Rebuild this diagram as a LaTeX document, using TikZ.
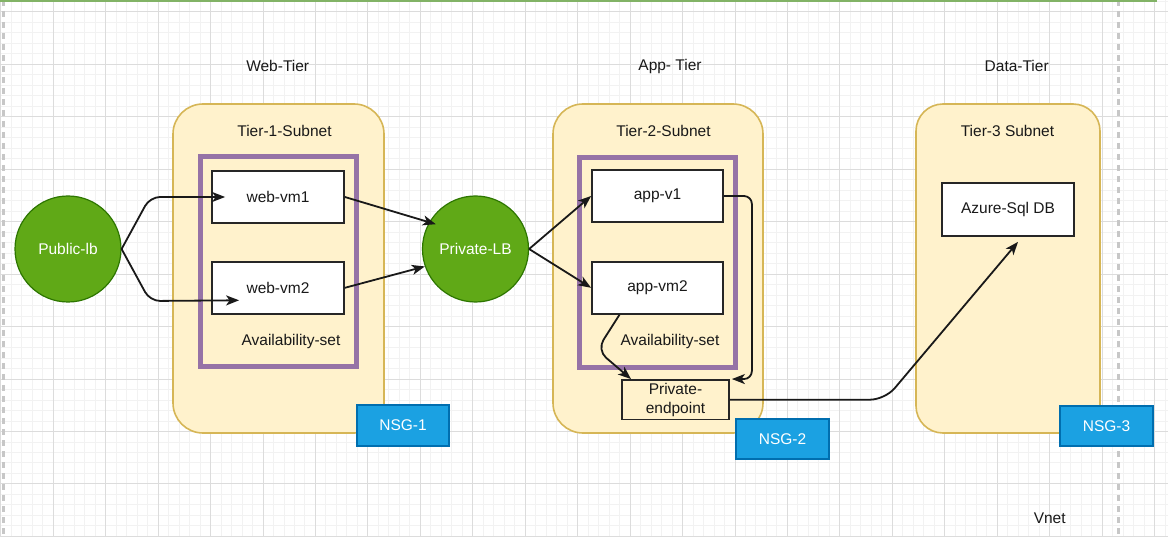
\documentclass[tikz,border=0pt]{standalone}
\usepackage{fontspec}
\setmainfont{Liberation Sans}
\usepackage{xcolor}
\usetikzlibrary{positioning,arrows.meta}

\definecolor{subnetfill}{HTML}{FFF2CC}
\definecolor{subnetline}{HTML}{D6B656}
\definecolor{setline}{HTML}{9673A6}
\definecolor{lbfill}{HTML}{60A917}
\definecolor{lbline}{HTML}{2D7600}
\definecolor{nsgfill}{HTML}{1BA1E2}
\definecolor{nsgline}{HTML}{006EAF}
\definecolor{vnetline}{HTML}{82B366}
\definecolor{gridminor}{HTML}{F2F2F2}
\definecolor{gridmajor}{HTML}{DCDCDC}

\begin{document}
\begin{tikzpicture}[x=1pt,y=-1pt,
		every node/.style={font=\fontsize{15.5}{19}\selectfont, text=black!90},
		subnet/.style={draw=subnetline, fill=subnetfill, line width=1.6pt, rounded corners=30pt, minimum width=#1, minimum height=329pt},
		availset/.style={draw=setline, line width=5.5pt, minimum width=156pt, minimum height=210pt},
		vm/.style={draw=black!85, fill=white, line width=1.8pt, minimum width=132pt, minimum height=52pt},
		lb/.style={circle, draw=lbline, fill=lbfill, line width=1.2pt, minimum size=106pt, text=white},
		nsg/.style={draw=nsgline, fill=nsgfill, line width=1.5pt, minimum width=93pt, minimum height=40pt, text=white},
		conn/.style={draw=black!90, line width=1.8pt, -{Stealth[length=13pt,width=10pt,inset=3.5pt]}}]
				% latar belakang dan kisi
				\fill[white] (0,0) rectangle (1168,537);
				\useasboundingbox (0,0) rectangle (1168,537);
				\foreach \i in {0,...,111} \draw[gridminor, line width=1pt] ({0.84+10.488*\i},0) -- ++(0,537);
				\foreach \j in {0,...,51} \draw[gridminor, line width=1pt] (0,{1.51+10.488*\j}) -- ++(1168,0);
				\foreach \i in {0,...,22} \draw[gridmajor, line width=1pt] ({0.84+52.44*\i},0) -- ++(0,537);
				\foreach \j in {0,...,10} \draw[gridmajor, line width=1pt] (0,{12+52.44*\j}) -- ++(1168,0);
				\draw[black!22, line width=2.5pt, dash pattern=on 6pt off 5pt] (3.3,0) -- (3.3,537);
				\draw[black!22, line width=2.5pt, dash pattern=on 6pt off 5pt] (1118.3,0) -- (1118.3,537);
				\draw[vnetline, line width=2.5pt] (0,1) -- (1157,1);

				% subnet per tier
				\node (tier1) [subnet=211pt] at (278.5,268.5) {};
				\node (tier2) [subnet=210pt] at (658,268.5) {};
				\node (tier3) [subnet=184pt, rounded corners=27pt] at (1008,268.5) {};
				\node (web) at (277.7,66) {Web-Tier};
				\node (app) at (670,66) {App- Tier};
				\node (data) at (1016.7,66) {Data-Tier};
				\node (sub1) at (284.5,131) {Tier-1-Subnet};
				\node (sub2) at (663.5,131) {Tier-2-Subnet};
				\node (sub3) at (1007.5,131) {Tier-3 Subnet};
				\node (set1) [availset] at (278.5,261.75) {};
				\node (set2) [availset] at (657.5,262.5) {};
				\node (set1txt) at (291,341.5) {Availability-set};
				\node (set2txt) at (670,341) {Availability-set};

				% mesin virtual dan load balancer
				\node (wvm1) [vm] at (278,197) {web-vm1};
				\node (wvm2) [vm, below=37pt of wvm1] {web-vm2};        % di bawah web-vm1
				\node (av1) [vm, minimum width=131pt] at (657.5,196) {app-v1};
				\node (av2) [vm, minimum width=131pt, below=38pt of av1] {app-vm2}; % di bawah app-v1
				\node (pe) [vm, fill=subnetfill, minimum width=107pt, minimum height=39.5pt, inner sep=1pt, align=center] at (675.5,399.7) {Private-\\endpoint};
				\node (az) [vm, minimum height=53pt] at (1008,209.5) {Azure-Sql DB};
				\node (pub) [lb] at (68,249) {Public-lb};
				\node (plb) [lb] at (475.5,249) {Private-LB};
				\node (nsg1) [nsg, minimum width=92pt, minimum height=41pt] at (403,425.5) {NSG-1};
				\node (nsg2) [nsg] at (782.5,439) {NSG-2};
				\node (nsg3) [nsg] at (1106.5,426) {NSG-3};
				\node (vnet) at (1049.7,518) {Vnet};

				% garis koneksi
				\draw[conn, rounded corners=10pt] (pub.east) -- (150,197) -- ([xshift=14pt]wvm1.west);
				\draw[conn, rounded corners=10pt] (pub.east) -- (150,301) -- ([xshift=28pt,yshift=-12.5pt]wvm2.west);
				\draw[conn, shorten >=-7pt] (wvm1.east) -- (plb.150);
				\draw[conn] (wvm2.east) -- (plb.199);
				\draw[conn] (plb.east) -- (av1.west);
				\draw[conn] (plb.east) -- (av2.west);
				\draw[conn, rounded corners=8pt] (av1.east) -- ++(28,0) |- ([xshift=2pt]pe.north east);
				\draw[conn, rounded corners=12pt] ([xshift=-38pt]av2.south) -- (597,350) -- ([xshift=-44.5pt]pe.north);
				\draw[conn, rounded corners=15pt] (pe.east) -- (885,399.7) -- ([xshift=10pt,yshift=-5pt]az.south);
\end{tikzpicture}
\end{document}
